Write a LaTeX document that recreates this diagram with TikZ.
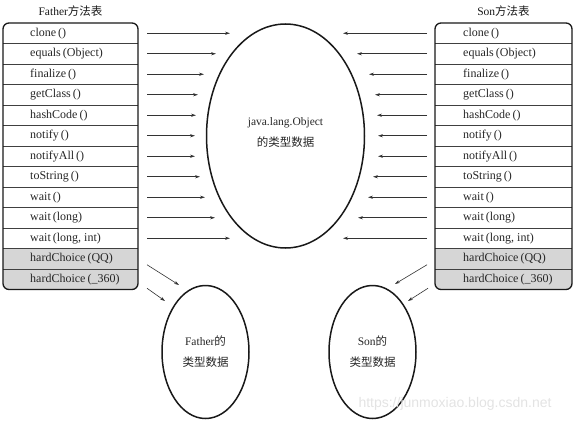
\documentclass[tikz,border=0pt]{standalone}
\usepackage{fontspec}
\setmainfont{Liberation Serif}
\newfontfamily\cjk{Noto Sans CJK SC}
\newfontfamily\wmfont{Liberation Sans}
\usetikzlibrary{arrows.meta,shapes.geometric}
\definecolor{rowgray}{HTML}{D6D6D6}
\begin{document}
\begin{tikzpicture}[x=1pt,y=-1pt,
  rowbox/.style={minimum width=135pt, minimum height=20.5pt, inner sep=0pt, outer sep=0pt},
  rowtext/.style={anchor=west, font=\fontsize{12}{14}\selectfont, inner sep=0pt, text=black!85},
  titletext/.style={font=\fontsize{11.5}{13}\selectfont, inner sep=0pt, text=black!90},
  sepline/.style={draw=black!75, line width=0.6pt},
  frame/.style={draw=black!90, line width=1.3pt, rounded corners=6pt},
  arr/.style={-{Stealth[length=5pt,width=3.2pt]}, line width=0.6pt, draw=black!80},
  blob/.style={draw=black!90, ellipse, line width=1.5pt, inner sep=0pt, align=center,
     font=\fontsize{11.5}{21}\selectfont, text=black!85},
  wm/.style={font=\wmfont\fontsize{14}{16}\selectfont, text=black!11, inner sep=0pt}]
\useasboundingbox (0,0) rectangle (576,423);

% titles
\node[titletext] (ftitle) at (70.5,11) {Father{\cjk 方法表}};
\node[titletext] (stitle) at (503.5,11) {Son{\cjk 方法表}};

% grey fills of the last two rows
\begin{scope}
  \clip[rounded corners=6pt] (3,23) rectangle (138,290);
  \fill[rowgray] (3,248) rectangle (138,290);
\end{scope}
\begin{scope}
  \clip[rounded corners=6pt] (435,23) rectangle (572,290);
  \fill[rowgray] (435,248) rectangle (572,290);
\end{scope}

% rows
\foreach \t [count=\i] in {clone\,(),equals\,(Object),finalize\,(),getClass\,(),hashCode\,(),notify\,(),notifyAll\,(),toString\,(),wait\,(),wait\,(long),{wait\,(long, int)},hardChoice\,(QQ),hardChoice\,(\_360)}{
  \pgfmathsetmacro\yc{33.25+20.5*(\i-1)}
  \node[rowbox] (f\i) at (70.5,\yc) {};
  \node[rowtext] (ft\i) at ([xshift=27pt]f\i.west) {\t};
  \node[rowbox, minimum width=137pt] (s\i) at (503.5,\yc) {};
  \node[rowtext] (st\i) at ([xshift=28pt]s\i.west) {\t};
}
\foreach \i in {1,...,12}{
  \draw[sepline] (f\i.south west) -- (f\i.south east);
  \draw[sepline] (s\i.south west) -- (s\i.south east);
}
\draw[frame] (f1.north west) rectangle (f13.south east);
\draw[frame] (s1.north west) rectangle (s13.south east);

% ellipses
\node[blob, minimum width=158pt, minimum height=224pt] (obj) at (285.5,136) {};
\node[blob, draw=none, text=black!85] (objtext) at (285.5,132.5) {java.lang.Object\\{\cjk 的类型数据}};
\node[blob, minimum width=87pt, minimum height=133pt] (fe) at (205.5,352) {Father{\cjk 的}\\{\cjk 类型数据}};
\node[blob, minimum width=87pt, minimum height=133pt] (se) at (372.5,352) {Son{\cjk 的}\\{\cjk 类型数据}};

% horizontal arrows
\foreach \i/\lx/\rx in {1/230/343,2/216/357,3/204/369,4/198/375,5/196/377,6/195/378,7/195/378,8/200/373,9/205/368,10/215/358,11/230/343}{
  \pgfmathsetmacro\yc{33.25+20.5*(\i-1)}
  \coordinate (la\i) at (\lx,\yc);
  \coordinate (ra\i) at (\rx,\yc);
  \draw[arr] ([xshift=9pt]f\i.east) -- (la\i);
  \draw[arr] ([xshift=-8pt]s\i.west) -- (ra\i);
}

% slanted arrows to the small ellipses
\coordinate (fa1) at (179,285);
\coordinate (fa2) at (165,301);
\coordinate (sa1) at (395,284);
\coordinate (sa2) at (408,301);
\draw[arr] ([xshift=9pt,yshift=-6pt]f12.east) -- (fa1);
\draw[arr] ([xshift=9pt,yshift=-9pt]f13.east) -- (fa2);
\draw[arr] ([xshift=-8pt,yshift=-6pt]s12.west) -- (sa1);
\draw[arr] ([xshift=-7pt,yshift=-9pt]s13.west) -- (sa2);

% watermark
\node[wm] (mark) at (455,404) {https://junmoxiao.blog.csdn.net};
\end{tikzpicture}
\end{document}
